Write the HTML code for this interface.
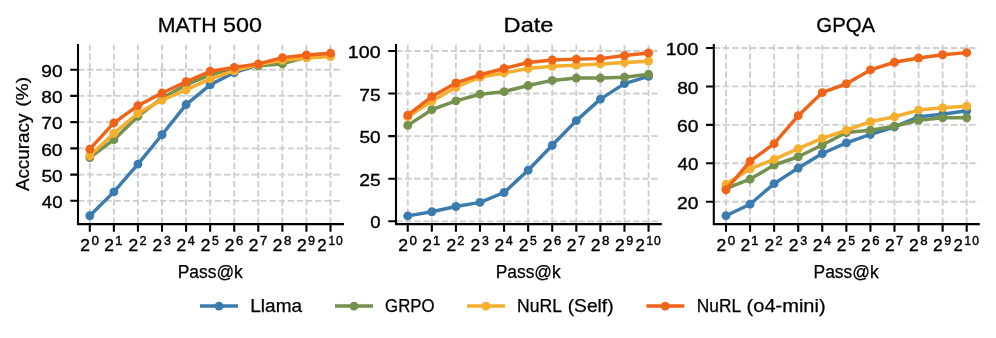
<!DOCTYPE html>
<html><head><meta charset="utf-8"><title>Pass@k</title>
<style>
html,body{margin:0;padding:0;background:#fff;}
body{width:996px;height:338px;overflow:hidden;}
svg{display:block;will-change:transform;font-family:"Liberation Sans",sans-serif;}
</style></head><body>
<svg width="996" height="338" viewBox="0 0 996 338">
<rect width="996" height="338" fill="#fff"/>
<path d="M89.80 223.9V44.8M113.87 223.9V44.8M137.94 223.9V44.8M162.01 223.9V44.8M186.08 223.9V44.8M210.15 223.9V44.8M234.22 223.9V44.8M258.29 223.9V44.8M282.36 223.9V44.8M306.43 223.9V44.8M330.50 223.9V44.8M78.0 200.80H342.9M78.0 174.58H342.9M78.0 148.36H342.9M78.0 122.14H342.9M78.0 95.92H342.9M78.0 69.70H342.9" stroke="#cecece" stroke-width="1.85" stroke-dasharray="6.36 2.76" fill="none"/>
<path d="M89.80 215.75L113.87 191.89L137.94 164.09L162.01 134.73L186.08 104.57L210.15 84.91L234.22 72.58L258.29 64.98L282.36 61.05L306.43 57.64L330.50 55.54" stroke="#3b7bae" stroke-width="3.47" fill="none" stroke-linejoin="round" stroke-linecap="butt"/>
<g fill="#3b7bae"><circle cx="89.80" cy="215.75" r="4.45"/><circle cx="113.87" cy="191.89" r="4.45"/><circle cx="137.94" cy="164.09" r="4.45"/><circle cx="162.01" cy="134.73" r="4.45"/><circle cx="186.08" cy="104.57" r="4.45"/><circle cx="210.15" cy="84.91" r="4.45"/><circle cx="234.22" cy="72.58" r="4.45"/><circle cx="258.29" cy="64.98" r="4.45"/><circle cx="282.36" cy="61.05" r="4.45"/><circle cx="306.43" cy="57.64" r="4.45"/><circle cx="330.50" cy="55.54" r="4.45"/></g>
<path d="M89.80 157.54L113.87 139.71L137.94 116.37L162.01 98.02L186.08 84.91L210.15 74.94L234.22 68.65L258.29 65.77L282.36 63.93L306.43 57.11L330.50 55.02" stroke="#74914e" stroke-width="3.47" fill="none" stroke-linejoin="round" stroke-linecap="butt"/>
<g fill="#74914e"><circle cx="89.80" cy="157.54" r="4.45"/><circle cx="113.87" cy="139.71" r="4.45"/><circle cx="137.94" cy="116.37" r="4.45"/><circle cx="162.01" cy="98.02" r="4.45"/><circle cx="186.08" cy="84.91" r="4.45"/><circle cx="210.15" cy="74.94" r="4.45"/><circle cx="234.22" cy="68.65" r="4.45"/><circle cx="258.29" cy="65.77" r="4.45"/><circle cx="282.36" cy="63.93" r="4.45"/><circle cx="306.43" cy="57.11" r="4.45"/><circle cx="330.50" cy="55.02" r="4.45"/></g>
<path d="M89.80 155.70L113.87 133.41L137.94 113.23L162.01 100.12L186.08 89.89L210.15 78.88L234.22 70.75L258.29 64.46L282.36 60.26L306.43 57.90L330.50 56.59" stroke="#f5ae2e" stroke-width="3.47" fill="none" stroke-linejoin="round" stroke-linecap="butt"/>
<g fill="#f5ae2e"><circle cx="89.80" cy="155.70" r="4.45"/><circle cx="113.87" cy="133.41" r="4.45"/><circle cx="137.94" cy="113.23" r="4.45"/><circle cx="162.01" cy="100.12" r="4.45"/><circle cx="186.08" cy="89.89" r="4.45"/><circle cx="210.15" cy="78.88" r="4.45"/><circle cx="234.22" cy="70.75" r="4.45"/><circle cx="258.29" cy="64.46" r="4.45"/><circle cx="282.36" cy="60.26" r="4.45"/><circle cx="306.43" cy="57.90" r="4.45"/><circle cx="330.50" cy="56.59" r="4.45"/></g>
<path d="M89.80 149.15L113.87 122.93L137.94 105.62L162.01 93.04L186.08 81.76L210.15 71.27L234.22 67.34L258.29 63.93L282.36 57.64L306.43 55.02L330.50 53.18" stroke="#f06419" stroke-width="3.47" fill="none" stroke-linejoin="round" stroke-linecap="butt"/>
<g fill="#f06419"><circle cx="89.80" cy="149.15" r="4.45"/><circle cx="113.87" cy="122.93" r="4.45"/><circle cx="137.94" cy="105.62" r="4.45"/><circle cx="162.01" cy="93.04" r="4.45"/><circle cx="186.08" cy="81.76" r="4.45"/><circle cx="210.15" cy="71.27" r="4.45"/><circle cx="234.22" cy="67.34" r="4.45"/><circle cx="258.29" cy="63.93" r="4.45"/><circle cx="282.36" cy="57.64" r="4.45"/><circle cx="306.43" cy="55.02" r="4.45"/><circle cx="330.50" cy="53.18" r="4.45"/></g>
<path d="M78.0 43.949999999999996V224.1H343.9" stroke="#000" stroke-width="2.08" fill="none" stroke-linecap="butt" stroke-linejoin="miter"/>
<path d="M89.80 224.1v7.55M113.87 224.1v7.55M137.94 224.1v7.55M162.01 224.1v7.55M186.08 224.1v7.55M210.15 224.1v7.55M234.22 224.1v7.55M258.29 224.1v7.55M282.36 224.1v7.55M306.43 224.1v7.55M330.50 224.1v7.55M78.0 200.80h-7.75M78.0 174.58h-7.75M78.0 148.36h-7.75M78.0 122.14h-7.75M78.0 95.92h-7.75M78.0 69.70h-7.75" stroke="#000" stroke-width="2.1" fill="none"/>
<text x="157.80" y="31.75" font-size="20.90" textLength="58.79" lengthAdjust="spacingAndGlyphs" fill="#000" stroke="#000" stroke-width="0.3">MATH</text>
<text x="223.12" y="31.75" font-size="20.90" textLength="38.95" lengthAdjust="spacingAndGlyphs" fill="#000" stroke="#000" stroke-width="0.3">500</text>
<text x="80.30" y="250.60" font-size="17.30" textLength="9.71" lengthAdjust="spacingAndGlyphs" fill="#000" stroke="#000" stroke-width="0.35">2</text>
<text x="91.48" y="244.90" font-size="12.20" textLength="7.45" lengthAdjust="spacingAndGlyphs" fill="#000" stroke="#000" stroke-width="0.4">0</text>
<text x="104.37" y="250.60" font-size="17.30" textLength="9.71" lengthAdjust="spacingAndGlyphs" fill="#000" stroke="#000" stroke-width="0.35">2</text>
<text x="115.18" y="244.90" font-size="12.20" textLength="7.22" lengthAdjust="spacingAndGlyphs" fill="#000" stroke="#000" stroke-width="0.4">1</text>
<text x="128.44" y="250.60" font-size="17.30" textLength="9.71" lengthAdjust="spacingAndGlyphs" fill="#000" stroke="#000" stroke-width="0.35">2</text>
<text x="139.40" y="244.90" font-size="12.20" textLength="7.08" lengthAdjust="spacingAndGlyphs" fill="#000" stroke="#000" stroke-width="0.4">2</text>
<text x="152.51" y="250.60" font-size="17.30" textLength="9.71" lengthAdjust="spacingAndGlyphs" fill="#000" stroke="#000" stroke-width="0.35">2</text>
<text x="163.99" y="244.90" font-size="12.20" textLength="6.86" lengthAdjust="spacingAndGlyphs" fill="#000" stroke="#000" stroke-width="0.4">3</text>
<text x="176.58" y="250.60" font-size="17.30" textLength="9.71" lengthAdjust="spacingAndGlyphs" fill="#000" stroke="#000" stroke-width="0.35">2</text>
<text x="187.89" y="244.90" font-size="12.20" textLength="6.95" lengthAdjust="spacingAndGlyphs" fill="#000" stroke="#000" stroke-width="0.4">4</text>
<text x="200.65" y="250.60" font-size="17.30" textLength="9.71" lengthAdjust="spacingAndGlyphs" fill="#000" stroke="#000" stroke-width="0.35">2</text>
<text x="212.06" y="244.90" font-size="12.20" textLength="6.80" lengthAdjust="spacingAndGlyphs" fill="#000" stroke="#000" stroke-width="0.4">5</text>
<text x="224.72" y="250.60" font-size="17.30" textLength="9.71" lengthAdjust="spacingAndGlyphs" fill="#000" stroke="#000" stroke-width="0.35">2</text>
<text x="235.96" y="244.90" font-size="12.20" textLength="7.23" lengthAdjust="spacingAndGlyphs" fill="#000" stroke="#000" stroke-width="0.4">6</text>
<text x="248.79" y="250.60" font-size="17.30" textLength="9.71" lengthAdjust="spacingAndGlyphs" fill="#000" stroke="#000" stroke-width="0.35">2</text>
<text x="259.91" y="244.90" font-size="12.20" textLength="7.34" lengthAdjust="spacingAndGlyphs" fill="#000" stroke="#000" stroke-width="0.4">7</text>
<text x="272.86" y="250.60" font-size="17.30" textLength="9.71" lengthAdjust="spacingAndGlyphs" fill="#000" stroke="#000" stroke-width="0.35">2</text>
<text x="284.08" y="244.90" font-size="12.20" textLength="7.41" lengthAdjust="spacingAndGlyphs" fill="#000" stroke="#000" stroke-width="0.4">8</text>
<text x="296.93" y="250.60" font-size="17.30" textLength="9.71" lengthAdjust="spacingAndGlyphs" fill="#000" stroke="#000" stroke-width="0.35">2</text>
<text x="308.14" y="244.90" font-size="12.20" textLength="6.98" lengthAdjust="spacingAndGlyphs" fill="#000" stroke="#000" stroke-width="0.4">9</text>
<text x="317.33" y="250.60" font-size="17.30" textLength="9.34" lengthAdjust="spacingAndGlyphs" fill="#000" stroke="#000" stroke-width="0.35">2</text>
<text x="328.42" y="244.90" font-size="12.20" textLength="6.45" lengthAdjust="spacingAndGlyphs" fill="#000" stroke="#000" stroke-width="0.4">1</text>
<text x="335.93" y="244.90" font-size="12.20" textLength="6.75" lengthAdjust="spacingAndGlyphs" fill="#000" stroke="#000" stroke-width="0.4">0</text>
<text x="41.75" y="207.95" font-size="17.30" textLength="20.81" lengthAdjust="spacingAndGlyphs" fill="#000" stroke="#000" stroke-width="0.35">40</text>
<text x="41.41" y="181.73" font-size="17.30" textLength="21.15" lengthAdjust="spacingAndGlyphs" fill="#000" stroke="#000" stroke-width="0.35">50</text>
<text x="41.20" y="155.51" font-size="17.30" textLength="21.38" lengthAdjust="spacingAndGlyphs" fill="#000" stroke="#000" stroke-width="0.35">60</text>
<text x="41.19" y="129.29" font-size="17.30" textLength="21.39" lengthAdjust="spacingAndGlyphs" fill="#000" stroke="#000" stroke-width="0.35">70</text>
<text x="41.35" y="103.07" font-size="17.30" textLength="21.22" lengthAdjust="spacingAndGlyphs" fill="#000" stroke="#000" stroke-width="0.35">80</text>
<text x="41.28" y="76.85" font-size="17.30" textLength="21.30" lengthAdjust="spacingAndGlyphs" fill="#000" stroke="#000" stroke-width="0.35">90</text>
<text x="177.75" y="277.60" font-size="17.66" textLength="65.05" lengthAdjust="spacingAndGlyphs" fill="#000" stroke="#000" stroke-width="0.25">Pass@k</text>
<path d="M407.75 223.9V44.8M431.83 223.9V44.8M455.91 223.9V44.8M479.99 223.9V44.8M504.07 223.9V44.8M528.15 223.9V44.8M552.23 223.9V44.8M576.31 223.9V44.8M600.39 223.9V44.8M624.47 223.9V44.8M648.55 223.9V44.8M396.0 221.30H660.8M396.0 178.71H660.8M396.0 136.12H660.8M396.0 93.54H660.8M396.0 50.95H660.8" stroke="#cecece" stroke-width="1.85" stroke-dasharray="6.36 2.76" fill="none"/>
<path d="M407.75 215.85L431.83 211.76L455.91 206.48L479.99 202.39L504.07 192.51L528.15 170.19L552.23 145.32L576.31 120.62L600.39 99.16L624.47 83.66L648.55 76.33" stroke="#3b7bae" stroke-width="3.47" fill="none" stroke-linejoin="round" stroke-linecap="butt"/>
<g fill="#3b7bae"><circle cx="407.75" cy="215.85" r="4.45"/><circle cx="431.83" cy="211.76" r="4.45"/><circle cx="455.91" cy="206.48" r="4.45"/><circle cx="479.99" cy="202.39" r="4.45"/><circle cx="504.07" cy="192.51" r="4.45"/><circle cx="528.15" cy="170.19" r="4.45"/><circle cx="552.23" cy="145.32" r="4.45"/><circle cx="576.31" cy="120.62" r="4.45"/><circle cx="600.39" cy="99.16" r="4.45"/><circle cx="624.47" cy="83.66" r="4.45"/><circle cx="648.55" cy="76.33" r="4.45"/></g>
<path d="M407.75 125.39L431.83 109.72L455.91 100.86L479.99 94.22L504.07 91.66L528.15 85.53L552.23 80.42L576.31 78.04L600.39 78.04L624.47 77.18L648.55 74.29" stroke="#74914e" stroke-width="3.47" fill="none" stroke-linejoin="round" stroke-linecap="butt"/>
<g fill="#74914e"><circle cx="407.75" cy="125.39" r="4.45"/><circle cx="431.83" cy="109.72" r="4.45"/><circle cx="455.91" cy="100.86" r="4.45"/><circle cx="479.99" cy="94.22" r="4.45"/><circle cx="504.07" cy="91.66" r="4.45"/><circle cx="528.15" cy="85.53" r="4.45"/><circle cx="552.23" cy="80.42" r="4.45"/><circle cx="576.31" cy="78.04" r="4.45"/><circle cx="600.39" cy="78.04" r="4.45"/><circle cx="624.47" cy="77.18" r="4.45"/><circle cx="648.55" cy="74.29" r="4.45"/></g>
<path d="M407.75 116.88L431.83 101.20L455.91 87.23L479.99 77.18L504.07 72.93L528.15 68.50L552.23 66.28L576.31 65.26L600.39 63.90L624.47 62.53L648.55 61.17" stroke="#f5ae2e" stroke-width="3.47" fill="none" stroke-linejoin="round" stroke-linecap="butt"/>
<g fill="#f5ae2e"><circle cx="407.75" cy="116.88" r="4.45"/><circle cx="431.83" cy="101.20" r="4.45"/><circle cx="455.91" cy="87.23" r="4.45"/><circle cx="479.99" cy="77.18" r="4.45"/><circle cx="504.07" cy="72.93" r="4.45"/><circle cx="528.15" cy="68.50" r="4.45"/><circle cx="552.23" cy="66.28" r="4.45"/><circle cx="576.31" cy="65.26" r="4.45"/><circle cx="600.39" cy="63.90" r="4.45"/><circle cx="624.47" cy="62.53" r="4.45"/><circle cx="648.55" cy="61.17" r="4.45"/></g>
<path d="M407.75 115.17L431.83 96.60L455.91 82.98L479.99 74.80L504.07 68.50L528.15 62.53L552.23 59.98L576.31 59.13L600.39 58.62L624.47 55.55L648.55 52.99" stroke="#f06419" stroke-width="3.47" fill="none" stroke-linejoin="round" stroke-linecap="butt"/>
<g fill="#f06419"><circle cx="407.75" cy="115.17" r="4.45"/><circle cx="431.83" cy="96.60" r="4.45"/><circle cx="455.91" cy="82.98" r="4.45"/><circle cx="479.99" cy="74.80" r="4.45"/><circle cx="504.07" cy="68.50" r="4.45"/><circle cx="528.15" cy="62.53" r="4.45"/><circle cx="552.23" cy="59.98" r="4.45"/><circle cx="576.31" cy="59.13" r="4.45"/><circle cx="600.39" cy="58.62" r="4.45"/><circle cx="624.47" cy="55.55" r="4.45"/><circle cx="648.55" cy="52.99" r="4.45"/></g>
<path d="M396.0 43.949999999999996V224.1H661.8" stroke="#000" stroke-width="2.08" fill="none" stroke-linecap="butt" stroke-linejoin="miter"/>
<path d="M407.75 224.1v7.55M431.83 224.1v7.55M455.91 224.1v7.55M479.99 224.1v7.55M504.07 224.1v7.55M528.15 224.1v7.55M552.23 224.1v7.55M576.31 224.1v7.55M600.39 224.1v7.55M624.47 224.1v7.55M648.55 224.1v7.55M396.0 221.30h-7.75M396.0 178.71h-7.75M396.0 136.12h-7.75M396.0 93.54h-7.75M396.0 50.95h-7.75" stroke="#000" stroke-width="2.1" fill="none"/>
<text x="503.61" y="31.75" font-size="20.90" textLength="49.89" lengthAdjust="spacingAndGlyphs" fill="#000" stroke="#000" stroke-width="0.3">Date</text>
<text x="398.25" y="250.60" font-size="17.30" textLength="9.71" lengthAdjust="spacingAndGlyphs" fill="#000" stroke="#000" stroke-width="0.35">2</text>
<text x="409.43" y="244.90" font-size="12.20" textLength="7.45" lengthAdjust="spacingAndGlyphs" fill="#000" stroke="#000" stroke-width="0.4">0</text>
<text x="422.33" y="250.60" font-size="17.30" textLength="9.71" lengthAdjust="spacingAndGlyphs" fill="#000" stroke="#000" stroke-width="0.35">2</text>
<text x="433.14" y="244.90" font-size="12.20" textLength="7.22" lengthAdjust="spacingAndGlyphs" fill="#000" stroke="#000" stroke-width="0.4">1</text>
<text x="446.41" y="250.60" font-size="17.30" textLength="9.71" lengthAdjust="spacingAndGlyphs" fill="#000" stroke="#000" stroke-width="0.35">2</text>
<text x="457.37" y="244.90" font-size="12.20" textLength="7.08" lengthAdjust="spacingAndGlyphs" fill="#000" stroke="#000" stroke-width="0.4">2</text>
<text x="470.49" y="250.60" font-size="17.30" textLength="9.71" lengthAdjust="spacingAndGlyphs" fill="#000" stroke="#000" stroke-width="0.35">2</text>
<text x="481.97" y="244.90" font-size="12.20" textLength="6.86" lengthAdjust="spacingAndGlyphs" fill="#000" stroke="#000" stroke-width="0.4">3</text>
<text x="494.57" y="250.60" font-size="17.30" textLength="9.71" lengthAdjust="spacingAndGlyphs" fill="#000" stroke="#000" stroke-width="0.35">2</text>
<text x="505.88" y="244.90" font-size="12.20" textLength="6.95" lengthAdjust="spacingAndGlyphs" fill="#000" stroke="#000" stroke-width="0.4">4</text>
<text x="518.65" y="250.60" font-size="17.30" textLength="9.71" lengthAdjust="spacingAndGlyphs" fill="#000" stroke="#000" stroke-width="0.35">2</text>
<text x="530.06" y="244.90" font-size="12.20" textLength="6.80" lengthAdjust="spacingAndGlyphs" fill="#000" stroke="#000" stroke-width="0.4">5</text>
<text x="542.73" y="250.60" font-size="17.30" textLength="9.71" lengthAdjust="spacingAndGlyphs" fill="#000" stroke="#000" stroke-width="0.35">2</text>
<text x="553.97" y="244.90" font-size="12.20" textLength="7.23" lengthAdjust="spacingAndGlyphs" fill="#000" stroke="#000" stroke-width="0.4">6</text>
<text x="566.81" y="250.60" font-size="17.30" textLength="9.71" lengthAdjust="spacingAndGlyphs" fill="#000" stroke="#000" stroke-width="0.35">2</text>
<text x="577.93" y="244.90" font-size="12.20" textLength="7.34" lengthAdjust="spacingAndGlyphs" fill="#000" stroke="#000" stroke-width="0.4">7</text>
<text x="590.89" y="250.60" font-size="17.30" textLength="9.71" lengthAdjust="spacingAndGlyphs" fill="#000" stroke="#000" stroke-width="0.35">2</text>
<text x="602.11" y="244.90" font-size="12.20" textLength="7.41" lengthAdjust="spacingAndGlyphs" fill="#000" stroke="#000" stroke-width="0.4">8</text>
<text x="614.97" y="250.60" font-size="17.30" textLength="9.71" lengthAdjust="spacingAndGlyphs" fill="#000" stroke="#000" stroke-width="0.35">2</text>
<text x="626.18" y="244.90" font-size="12.20" textLength="6.98" lengthAdjust="spacingAndGlyphs" fill="#000" stroke="#000" stroke-width="0.4">9</text>
<text x="635.38" y="250.60" font-size="17.30" textLength="9.34" lengthAdjust="spacingAndGlyphs" fill="#000" stroke="#000" stroke-width="0.35">2</text>
<text x="646.47" y="244.90" font-size="12.20" textLength="6.45" lengthAdjust="spacingAndGlyphs" fill="#000" stroke="#000" stroke-width="0.4">1</text>
<text x="653.98" y="244.90" font-size="12.20" textLength="6.75" lengthAdjust="spacingAndGlyphs" fill="#000" stroke="#000" stroke-width="0.4">0</text>
<text x="370.25" y="228.45" font-size="17.30" textLength="10.30" lengthAdjust="spacingAndGlyphs" fill="#000" stroke="#000" stroke-width="0.35">0</text>
<text x="359.21" y="185.86" font-size="17.30" textLength="21.43" lengthAdjust="spacingAndGlyphs" fill="#000" stroke="#000" stroke-width="0.35">25</text>
<text x="359.41" y="143.28" font-size="17.30" textLength="21.15" lengthAdjust="spacingAndGlyphs" fill="#000" stroke="#000" stroke-width="0.35">50</text>
<text x="359.19" y="100.69" font-size="17.30" textLength="21.45" lengthAdjust="spacingAndGlyphs" fill="#000" stroke="#000" stroke-width="0.35">75</text>
<text x="347.88" y="58.10" font-size="17.30" textLength="32.71" lengthAdjust="spacingAndGlyphs" fill="#000" stroke="#000" stroke-width="0.35">100</text>
<text x="495.70" y="277.60" font-size="17.66" textLength="65.05" lengthAdjust="spacingAndGlyphs" fill="#000" stroke="#000" stroke-width="0.25">Pass@k</text>
<path d="M726.00 223.9V44.8M750.07 223.9V44.8M774.14 223.9V44.8M798.21 223.9V44.8M822.28 223.9V44.8M846.35 223.9V44.8M870.42 223.9V44.8M894.49 223.9V44.8M918.56 223.9V44.8M942.63 223.9V44.8M966.70 223.9V44.8M713.8 201.70H978.8M713.8 163.28H978.8M713.8 124.86H978.8M713.8 86.44H978.8M713.8 48.02H978.8" stroke="#cecece" stroke-width="1.85" stroke-dasharray="6.36 2.76" fill="none"/>
<path d="M726.00 215.72L750.07 204.20L774.14 183.64L798.21 168.08L822.28 153.48L846.35 142.92L870.42 134.46L894.49 126.97L918.56 116.79L942.63 114.29L966.70 110.84" stroke="#3b7bae" stroke-width="3.47" fill="none" stroke-linejoin="round" stroke-linecap="butt"/>
<g fill="#3b7bae"><circle cx="726.00" cy="215.72" r="4.45"/><circle cx="750.07" cy="204.20" r="4.45"/><circle cx="774.14" cy="183.64" r="4.45"/><circle cx="798.21" cy="168.08" r="4.45"/><circle cx="822.28" cy="153.48" r="4.45"/><circle cx="846.35" cy="142.92" r="4.45"/><circle cx="870.42" cy="134.46" r="4.45"/><circle cx="894.49" cy="126.97" r="4.45"/><circle cx="918.56" cy="116.79" r="4.45"/><circle cx="942.63" cy="114.29" r="4.45"/><circle cx="966.70" cy="110.84" r="4.45"/></g>
<path d="M726.00 188.64L750.07 179.22L774.14 165.01L798.21 156.75L822.28 145.03L846.35 132.54L870.42 130.24L894.49 126.20L918.56 120.25L942.63 117.75L966.70 117.75" stroke="#74914e" stroke-width="3.47" fill="none" stroke-linejoin="round" stroke-linecap="butt"/>
<g fill="#74914e"><circle cx="726.00" cy="188.64" r="4.45"/><circle cx="750.07" cy="179.22" r="4.45"/><circle cx="774.14" cy="165.01" r="4.45"/><circle cx="798.21" cy="156.75" r="4.45"/><circle cx="822.28" cy="145.03" r="4.45"/><circle cx="846.35" cy="132.54" r="4.45"/><circle cx="870.42" cy="130.24" r="4.45"/><circle cx="894.49" cy="126.20" r="4.45"/><circle cx="918.56" cy="120.25" r="4.45"/><circle cx="942.63" cy="117.75" r="4.45"/><circle cx="966.70" cy="117.75" r="4.45"/></g>
<path d="M726.00 184.22L750.07 168.85L774.14 159.44L798.21 148.68L822.28 138.31L846.35 130.24L870.42 121.59L894.49 116.79L918.56 110.07L942.63 107.76L966.70 106.23" stroke="#f5ae2e" stroke-width="3.47" fill="none" stroke-linejoin="round" stroke-linecap="butt"/>
<g fill="#f5ae2e"><circle cx="726.00" cy="184.22" r="4.45"/><circle cx="750.07" cy="168.85" r="4.45"/><circle cx="774.14" cy="159.44" r="4.45"/><circle cx="798.21" cy="148.68" r="4.45"/><circle cx="822.28" cy="138.31" r="4.45"/><circle cx="846.35" cy="130.24" r="4.45"/><circle cx="870.42" cy="121.59" r="4.45"/><circle cx="894.49" cy="116.79" r="4.45"/><circle cx="918.56" cy="110.07" r="4.45"/><circle cx="942.63" cy="107.76" r="4.45"/><circle cx="966.70" cy="106.23" r="4.45"/></g>
<path d="M726.00 189.79L750.07 161.17L774.14 143.69L798.21 115.64L822.28 92.59L846.35 83.75L870.42 69.92L894.49 62.24L918.56 58.01L942.63 54.74L966.70 52.63" stroke="#f06419" stroke-width="3.47" fill="none" stroke-linejoin="round" stroke-linecap="butt"/>
<g fill="#f06419"><circle cx="726.00" cy="189.79" r="4.45"/><circle cx="750.07" cy="161.17" r="4.45"/><circle cx="774.14" cy="143.69" r="4.45"/><circle cx="798.21" cy="115.64" r="4.45"/><circle cx="822.28" cy="92.59" r="4.45"/><circle cx="846.35" cy="83.75" r="4.45"/><circle cx="870.42" cy="69.92" r="4.45"/><circle cx="894.49" cy="62.24" r="4.45"/><circle cx="918.56" cy="58.01" r="4.45"/><circle cx="942.63" cy="54.74" r="4.45"/><circle cx="966.70" cy="52.63" r="4.45"/></g>
<path d="M713.8 43.949999999999996V224.1H979.8" stroke="#000" stroke-width="2.08" fill="none" stroke-linecap="butt" stroke-linejoin="miter"/>
<path d="M726.00 224.1v7.55M750.07 224.1v7.55M774.14 224.1v7.55M798.21 224.1v7.55M822.28 224.1v7.55M846.35 224.1v7.55M870.42 224.1v7.55M894.49 224.1v7.55M918.56 224.1v7.55M942.63 224.1v7.55M966.70 224.1v7.55M713.8 201.70h-7.75M713.8 163.28h-7.75M713.8 124.86h-7.75M713.8 86.44h-7.75M713.8 48.02h-7.75" stroke="#000" stroke-width="2.1" fill="none"/>
<text x="816.33" y="31.75" font-size="20.90" textLength="58.86" lengthAdjust="spacingAndGlyphs" fill="#000" stroke="#000" stroke-width="0.3">GPQA</text>
<text x="716.50" y="250.60" font-size="17.30" textLength="9.71" lengthAdjust="spacingAndGlyphs" fill="#000" stroke="#000" stroke-width="0.35">2</text>
<text x="727.68" y="244.90" font-size="12.20" textLength="7.45" lengthAdjust="spacingAndGlyphs" fill="#000" stroke="#000" stroke-width="0.4">0</text>
<text x="740.57" y="250.60" font-size="17.30" textLength="9.71" lengthAdjust="spacingAndGlyphs" fill="#000" stroke="#000" stroke-width="0.35">2</text>
<text x="751.38" y="244.90" font-size="12.20" textLength="7.22" lengthAdjust="spacingAndGlyphs" fill="#000" stroke="#000" stroke-width="0.4">1</text>
<text x="764.64" y="250.60" font-size="17.30" textLength="9.71" lengthAdjust="spacingAndGlyphs" fill="#000" stroke="#000" stroke-width="0.35">2</text>
<text x="775.60" y="244.90" font-size="12.20" textLength="7.08" lengthAdjust="spacingAndGlyphs" fill="#000" stroke="#000" stroke-width="0.4">2</text>
<text x="788.71" y="250.60" font-size="17.30" textLength="9.71" lengthAdjust="spacingAndGlyphs" fill="#000" stroke="#000" stroke-width="0.35">2</text>
<text x="800.19" y="244.90" font-size="12.20" textLength="6.86" lengthAdjust="spacingAndGlyphs" fill="#000" stroke="#000" stroke-width="0.4">3</text>
<text x="812.78" y="250.60" font-size="17.30" textLength="9.71" lengthAdjust="spacingAndGlyphs" fill="#000" stroke="#000" stroke-width="0.35">2</text>
<text x="824.09" y="244.90" font-size="12.20" textLength="6.95" lengthAdjust="spacingAndGlyphs" fill="#000" stroke="#000" stroke-width="0.4">4</text>
<text x="836.85" y="250.60" font-size="17.30" textLength="9.71" lengthAdjust="spacingAndGlyphs" fill="#000" stroke="#000" stroke-width="0.35">2</text>
<text x="848.26" y="244.90" font-size="12.20" textLength="6.80" lengthAdjust="spacingAndGlyphs" fill="#000" stroke="#000" stroke-width="0.4">5</text>
<text x="860.92" y="250.60" font-size="17.30" textLength="9.71" lengthAdjust="spacingAndGlyphs" fill="#000" stroke="#000" stroke-width="0.35">2</text>
<text x="872.16" y="244.90" font-size="12.20" textLength="7.23" lengthAdjust="spacingAndGlyphs" fill="#000" stroke="#000" stroke-width="0.4">6</text>
<text x="884.99" y="250.60" font-size="17.30" textLength="9.71" lengthAdjust="spacingAndGlyphs" fill="#000" stroke="#000" stroke-width="0.35">2</text>
<text x="896.11" y="244.90" font-size="12.20" textLength="7.34" lengthAdjust="spacingAndGlyphs" fill="#000" stroke="#000" stroke-width="0.4">7</text>
<text x="909.06" y="250.60" font-size="17.30" textLength="9.71" lengthAdjust="spacingAndGlyphs" fill="#000" stroke="#000" stroke-width="0.35">2</text>
<text x="920.28" y="244.90" font-size="12.20" textLength="7.41" lengthAdjust="spacingAndGlyphs" fill="#000" stroke="#000" stroke-width="0.4">8</text>
<text x="933.13" y="250.60" font-size="17.30" textLength="9.71" lengthAdjust="spacingAndGlyphs" fill="#000" stroke="#000" stroke-width="0.35">2</text>
<text x="944.34" y="244.90" font-size="12.20" textLength="6.98" lengthAdjust="spacingAndGlyphs" fill="#000" stroke="#000" stroke-width="0.4">9</text>
<text x="953.53" y="250.60" font-size="17.30" textLength="9.34" lengthAdjust="spacingAndGlyphs" fill="#000" stroke="#000" stroke-width="0.35">2</text>
<text x="964.62" y="244.90" font-size="12.20" textLength="6.45" lengthAdjust="spacingAndGlyphs" fill="#000" stroke="#000" stroke-width="0.4">1</text>
<text x="972.13" y="244.90" font-size="12.20" textLength="6.75" lengthAdjust="spacingAndGlyphs" fill="#000" stroke="#000" stroke-width="0.4">0</text>
<text x="677.01" y="208.85" font-size="17.30" textLength="21.37" lengthAdjust="spacingAndGlyphs" fill="#000" stroke="#000" stroke-width="0.35">20</text>
<text x="677.55" y="170.43" font-size="17.30" textLength="20.81" lengthAdjust="spacingAndGlyphs" fill="#000" stroke="#000" stroke-width="0.35">40</text>
<text x="677.00" y="132.01" font-size="17.30" textLength="21.38" lengthAdjust="spacingAndGlyphs" fill="#000" stroke="#000" stroke-width="0.35">60</text>
<text x="677.15" y="93.59" font-size="17.30" textLength="21.22" lengthAdjust="spacingAndGlyphs" fill="#000" stroke="#000" stroke-width="0.35">80</text>
<text x="665.68" y="55.17" font-size="17.30" textLength="32.71" lengthAdjust="spacingAndGlyphs" fill="#000" stroke="#000" stroke-width="0.35">100</text>
<text x="813.60" y="277.60" font-size="17.66" textLength="65.05" lengthAdjust="spacingAndGlyphs" fill="#000" stroke="#000" stroke-width="0.25">Pass@k</text>
<text x="-191.11" y="28.90" font-size="17.66" textLength="77.42" lengthAdjust="spacingAndGlyphs" fill="#000" stroke="#000" stroke-width="0.25" transform="rotate(-90)">Accuracy</text>
<text x="-106.87" y="27.60" font-size="16.60" textLength="29.94" lengthAdjust="spacingAndGlyphs" fill="#000" stroke="#000" stroke-width="0.25" transform="rotate(-90)">(%)</text>
<path d="M200.0 306.1H238.0" stroke="#3b7bae" stroke-width="3.47"/>
<circle cx="219.0" cy="306.1" r="4.45" fill="#3b7bae"/>
<text x="250.26" y="311.90" font-size="17.66" textLength="51.81" lengthAdjust="spacingAndGlyphs" fill="#000" stroke="#000" stroke-width="0.25">Llama</text>
<path d="M335.0 306.1H373.0" stroke="#74914e" stroke-width="3.47"/>
<circle cx="354.0" cy="306.1" r="4.45" fill="#74914e"/>
<text x="385.08" y="311.90" font-size="17.66" textLength="49.40" lengthAdjust="spacingAndGlyphs" fill="#000" stroke="#000" stroke-width="0.25">GRPO</text>
<path d="M467.0 306.1H505.0" stroke="#f5ae2e" stroke-width="3.47"/>
<circle cx="485.9" cy="306.1" r="4.45" fill="#f5ae2e"/>
<text x="516.98" y="311.90" font-size="17.66" textLength="44.98" lengthAdjust="spacingAndGlyphs" fill="#000" stroke="#000" stroke-width="0.25">NuRL</text>
<text x="567.74" y="311.90" font-size="17.66" textLength="45.83" lengthAdjust="spacingAndGlyphs" fill="#000" stroke="#000" stroke-width="0.25">(Self)</text>
<path d="M646.4 306.1H684.3" stroke="#f06419" stroke-width="3.47"/>
<circle cx="665.2" cy="306.1" r="4.45" fill="#f06419"/>
<text x="696.80" y="311.90" font-size="17.66" textLength="44.35" lengthAdjust="spacingAndGlyphs" fill="#000" stroke="#000" stroke-width="0.25">NuRL</text>
<text x="746.58" y="311.90" font-size="17.66" textLength="79.03" lengthAdjust="spacingAndGlyphs" fill="#000" stroke="#000" stroke-width="0.25">(o4-mini)</text>
</svg>
</body></html>
